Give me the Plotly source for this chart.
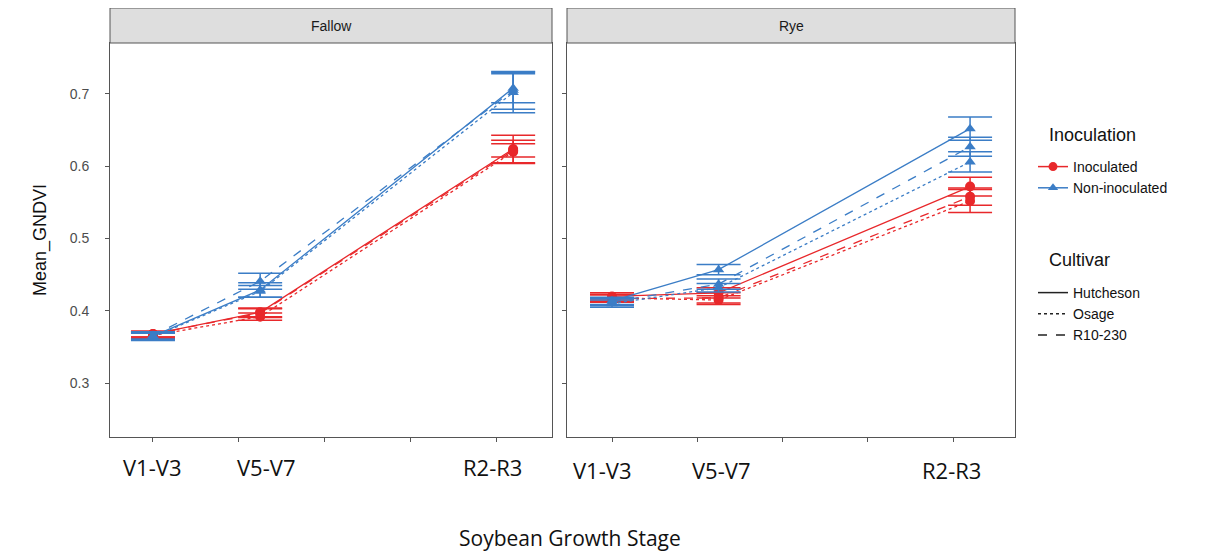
import plotly.graph_objects as go

# ---------------- data ----------------
stages = ["V1-V3", "V5-V7", "R2-R3"]
stage_x = [0, 1.25, 4.2]          # numeric position of each growth stage
tick_x = [0, 1, 2, 3, 4]          # unlabeled axis ticks
facets = ["Fallow", "Rye"]
inoculations = ["Inoculated", "Non-inoculated"]
cultivars = ["Hutcheson", "Osage", "R10-230"]

# Fallow – mean GNDVI and standard error per stage
fallow_inoc_hutcheson = [0.368, 0.398, 0.624]
fallow_inoc_osage = [0.366, 0.392, 0.620]
fallow_inoc_r10 = [0.368, 0.397, 0.622]
fallow_inoc_hutcheson_se = [0.004, 0.006, 0.019]
fallow_inoc_osage_se = [0.004, 0.005, 0.016]
fallow_inoc_r10_se = [0.004, 0.006, 0.009]

fallow_non_hutcheson = [0.365, 0.429, 0.708]
fallow_non_osage = [0.364, 0.427, 0.702]
fallow_non_r10 = [0.366, 0.441, 0.705]
fallow_non_hutcheson_se = [0.005, 0.010, 0.020]
fallow_non_osage_se = [0.005, 0.008, 0.028]
fallow_non_r10_se = [0.005, 0.011, 0.026]

# Rye – mean GNDVI and standard error per stage
rye_inoc_hutcheson = [0.420, 0.425, 0.572]
rye_inoc_osage = [0.418, 0.415, 0.552]
rye_inoc_r10 = [0.417, 0.418, 0.558]
rye_inoc_hutcheson_se = [0.005, 0.007, 0.013]
rye_inoc_osage_se = [0.005, 0.006, 0.016]
rye_inoc_r10_se = [0.005, 0.007, 0.012]

rye_non_hutcheson = [0.414, 0.457, 0.652]
rye_non_osage = [0.410, 0.432, 0.606]
rye_non_r10 = [0.412, 0.437, 0.627]
rye_non_hutcheson_se = [0.005, 0.007, 0.016]
rye_non_osage_se = [0.005, 0.006, 0.014]
rye_non_r10_se = [0.005, 0.007, 0.013]

y_ticks = [0.3, 0.4, 0.5, 0.6, 0.7]

data = {
    ("Fallow", "Inoculated"): [(fallow_inoc_hutcheson, fallow_inoc_hutcheson_se),
                               (fallow_inoc_osage, fallow_inoc_osage_se),
                               (fallow_inoc_r10, fallow_inoc_r10_se)],
    ("Fallow", "Non-inoculated"): [(fallow_non_hutcheson, fallow_non_hutcheson_se),
                                   (fallow_non_osage, fallow_non_osage_se),
                                   (fallow_non_r10, fallow_non_r10_se)],
    ("Rye", "Inoculated"): [(rye_inoc_hutcheson, rye_inoc_hutcheson_se),
                            (rye_inoc_osage, rye_inoc_osage_se),
                            (rye_inoc_r10, rye_inoc_r10_se)],
    ("Rye", "Non-inoculated"): [(rye_non_hutcheson, rye_non_hutcheson_se),
                                (rye_non_osage, rye_non_osage_se),
                                (rye_non_r10, rye_non_r10_se)],
}

# ---------------- styles ----------------
OFF = 8                      # default page margin around the figure
W, H = 1209 - OFF, 554
colors = {"Inoculated": "#E8282B", "Non-inoculated": "#3B7DC6"}
symbols = {"Inoculated": "circle", "Non-inoculated": "triangle-up"}
dashes = {"Hutcheson": "solid", "Osage": "dot", "R10-230": "dash"}
axis_names = {"Fallow": ("x", "y"), "Rye": ("x2", "y2")}

def px_x(p):
    return (p - OFF) / W

def px_y(p):
    return 1 - (p - OFF) / H

fig = go.Figure()

for facet in facets:
    xa, ya = axis_names[facet]
    for inoc in inoculations:
        for cult, (means, ses) in zip(cultivars, data[(facet, inoc)]):
            fig.add_trace(go.Scatter(
                x=stage_x, y=means, xaxis=xa, yaxis=ya,
                mode="lines+markers", showlegend=False,
                line=dict(color=colors[inoc], width=1.3, dash=dashes[cult]),
                marker=dict(color=colors[inoc], symbol=symbols[inoc], size=10),
                error_y=dict(type="data", array=ses, visible=True,
                             color=colors[inoc], thickness=1.5, width=22),
                hovertemplate=f"{facet} / {inoc} / {cult}<br>%{{y:.3f}}<extra></extra>",
            ))

# legend-only traces
for inoc in inoculations:
    fig.add_trace(go.Scatter(
        x=[None], y=[None], mode="lines+markers", name=inoc, legend="legend",
        line=dict(color=colors[inoc], width=1.5),
        marker=dict(color=colors[inoc], symbol=symbols[inoc], size=9),
    ))
for cult in cultivars:
    fig.add_trace(go.Scatter(
        x=[None], y=[None], mode="lines", name=cult, legend="legend2",
        line=dict(color="#222222", width=1.5, dash=dashes[cult]),
    ))

# ---------------- layout ----------------
panel_top, panel_bot = 43, 437
left_dom = [px_x(110), px_x(552)]
right_dom = [px_x(567), px_x(1015)]
y_dom = [px_y(panel_bot), px_y(panel_top)]

axis_common = dict(showline=True, mirror=True, linecolor="#555555", linewidth=1,
                   showgrid=False, zeroline=False, ticks="outside", ticklen=4,
                   tickcolor="#555555")

fig.update_layout(
    width=W, height=H,
    margin=dict(l=0, r=0, t=0, b=0),
    paper_bgcolor="white", plot_bgcolor="white",
    font=dict(family="Liberation Sans, Arial, sans-serif", color="#222222"),
    xaxis=dict(domain=left_dom, range=[-0.501, 4.653], tickvals=tick_x,
               ticktext=["" for _ in tick_x], **axis_common),
    xaxis2=dict(domain=right_dom, range=[-0.528, 4.727], tickvals=tick_x,
                ticktext=["" for _ in tick_x], **axis_common),
    yaxis=dict(domain=y_dom, range=[0.2256, 0.7705], tickvals=y_ticks,
               tickformat=".1f", tickfont=dict(size=14, color="#4d4d4d"),
               ticklabelstandoff=13,
               title=dict(text="Mean_GNDVI", font=dict(size=18, color="#111111"),
                          standoff=18),
               anchor="x", **axis_common),
    yaxis2=dict(domain=y_dom, range=[0.2256, 0.7705], tickvals=y_ticks,
                showticklabels=False, anchor="x2", **axis_common),
    legend=dict(x=px_x(1033), y=px_y(151), xanchor="left", yanchor="top",
                font=dict(size=14, color="#111111"), bgcolor="rgba(0,0,0,0)",
                itemwidth=30),
    legend2=dict(x=px_x(1033), y=px_y(277), xanchor="left", yanchor="top",
                 font=dict(size=14, color="#111111"), bgcolor="rgba(0,0,0,0)",
                 itemwidth=30),
)

shapes = []
annotations = []

# legend titles
for title, yp in [("Inoculation", 135), ("Cultivar", 260)]:
    annotations.append(dict(text=title, xref="paper", yref="paper",
                            x=px_x(1047), y=px_y(yp), xanchor="left", yanchor="middle",
                            showarrow=False, font=dict(size=18, color="#111111")))

# facet strips
for facet, dom in zip(facets, [left_dom, right_dom]):
    shapes.append(dict(type="rect", xref="paper", yref="paper",
                       x0=dom[0], x1=dom[1], y0=px_y(panel_top), y1=px_y(8),
                       fillcolor="#dedede", line=dict(color="#555555", width=1)))
    annotations.append(dict(text=facet, xref="paper", yref="paper",
                            x=(dom[0] + dom[1]) / 2, y=px_y(25.5),
                            xanchor="center", yanchor="middle",
                            showarrow=False, font=dict(size=14, color="#1a1a1a")))

# stage labels under each panel
label_shift = {"Fallow": [-1, 6, -21], "Rye": [-10, 2, -19]}
for facet, xref, yp in [("Fallow", "x", 467), ("Rye", "x2", 470)]:
    for st, sx, sh in zip(stages, stage_x, label_shift[facet]):
        annotations.append(dict(text=st, xref=xref, yref="paper", x=sx, y=px_y(yp),
                                xshift=sh, xanchor="center", yanchor="middle",
                                showarrow=False,
                                font=dict(family="Open Sans, sans-serif", size=22,
                                          color="#111111")))

annotations.append(dict(text="Soybean Growth Stage", xref="paper", yref="paper",
                        x=px_x(570), y=px_y(538), xanchor="center", yanchor="middle",
                        showarrow=False,
                        font=dict(family="Open Sans, sans-serif", size=21,
                                  color="#111111")))

fig.update_layout(shapes=shapes, annotations=annotations)

fig.write_html("out.html")
